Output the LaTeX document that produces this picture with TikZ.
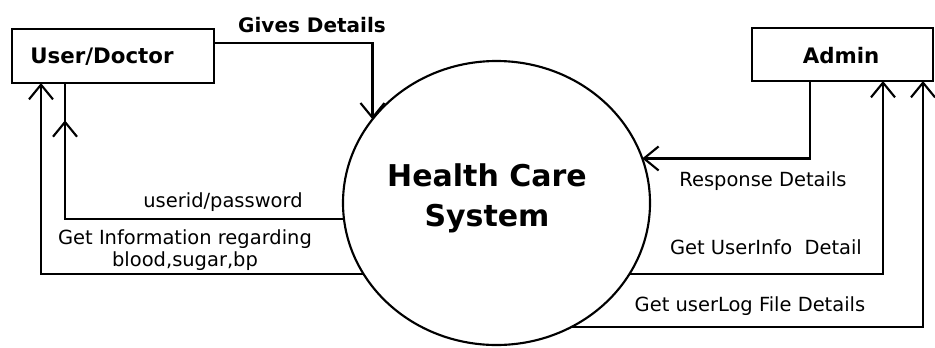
\documentclass[tikz,border=0pt]{standalone}
\usepackage{fontspec}
\setmainfont{DejaVu Sans}
\usetikzlibrary{shapes.geometric,arrows.meta,calc,decorations.markings}

\begin{document}
\begin{tikzpicture}[x=0.75pt,y=0.75pt,yscale=-1,xscale=1,
		ext/.style={draw, line width=1.6pt, inner sep=0pt, outer sep=0pt},
		proc/.style={draw, ellipse, line width=1.6pt, inner sep=0pt, outer sep=0pt, minimum width=230.25pt, minimum height=213pt},
		flow/.style={line width=1.6pt, -{Straight Barb[length=11pt,width=18pt]}},
		plain/.style={line width=1.6pt},
		boxtxt/.style={font=\bfseries\fontsize{16}{19}\selectfont, anchor=base, inner sep=0pt},
		flowtxt/.style={font=\fontsize{14.6}{16.5}\selectfont, anchor=base, inner sep=0pt}]
		\useasboundingbox (0,0) rectangle (935,347);
		
		% external entities
		\node [ext, minimum width=151.5pt, minimum height=40.5pt] (user) at (113,56) {};
		\node [ext, minimum width=135.75pt, minimum height=39.75pt] (admin) at (842.5,54.5) {};
		\node [boxtxt] (userlbl) at (102,63) {User/Doctor};
		\node [boxtxt] (adminlbl) at (841,63) {Admin};
		
		% process
		\node [proc] (hcs) at (496.5,203) {};
		\node [font=\bfseries\fontsize{22.5}{30}\selectfont, align=center, inner sep=0pt] (hcslbl) at (487,198) {Health Care\\System};
		
		% where the flows meet the boxes
		\coordinate (ugive) at ($(user.east)+(0,-13)$);
		\coordinate (upass) at ($(user.south west)+(53,0)$);
		\coordinate (uinfo) at ($(user.south west)+(29,0)$);
		\coordinate (aresp) at ($(admin.south west)+(58,0)$);
		\coordinate (adet) at ($(admin.south west)+(131,0)$);
		\coordinate (alog) at ($(admin.south west)+(171,0)$);
		
		% flows
		\draw [flow] (ugive) -| (hcs.146.3);
		\draw [plain, postaction={decorate}, decoration={markings, mark=at position 0.91 with {\arrow{Straight Barb[length=11pt,width=18pt]}}}] (hcs.186.4) -| (upass);
		\draw [flow] (hcs.208.1) -| (uinfo);
		\draw [flow] (aresp) |- (hcs.17.2);
		\draw [flow] (hcs.332.3) -| (adet);
		\draw [flow] (hcs.301.1) -| (alog);
		
		% flow labels
		\node [boxtxt, font=\bfseries\fontsize{15}{18}\selectfont] (givelbl) at (312,32) {Gives Details};
		\node [flowtxt] (passlbl) at (223,207) {userid/password};
		\node [flowtxt, anchor=center, align=center] (infolbl) at (185,250) {Get Information regarding\\blood,sugar,bp};
		\node [flowtxt] (resplbl) at (763,186) {Response Details};
		\node [flowtxt] (detlbl) at (766,254) {Get UserInfo\ \ Detail};
		\node [flowtxt] (loglbl) at (750,311) {Get userLog File Details};
		
\end{tikzpicture}
\end{document}
